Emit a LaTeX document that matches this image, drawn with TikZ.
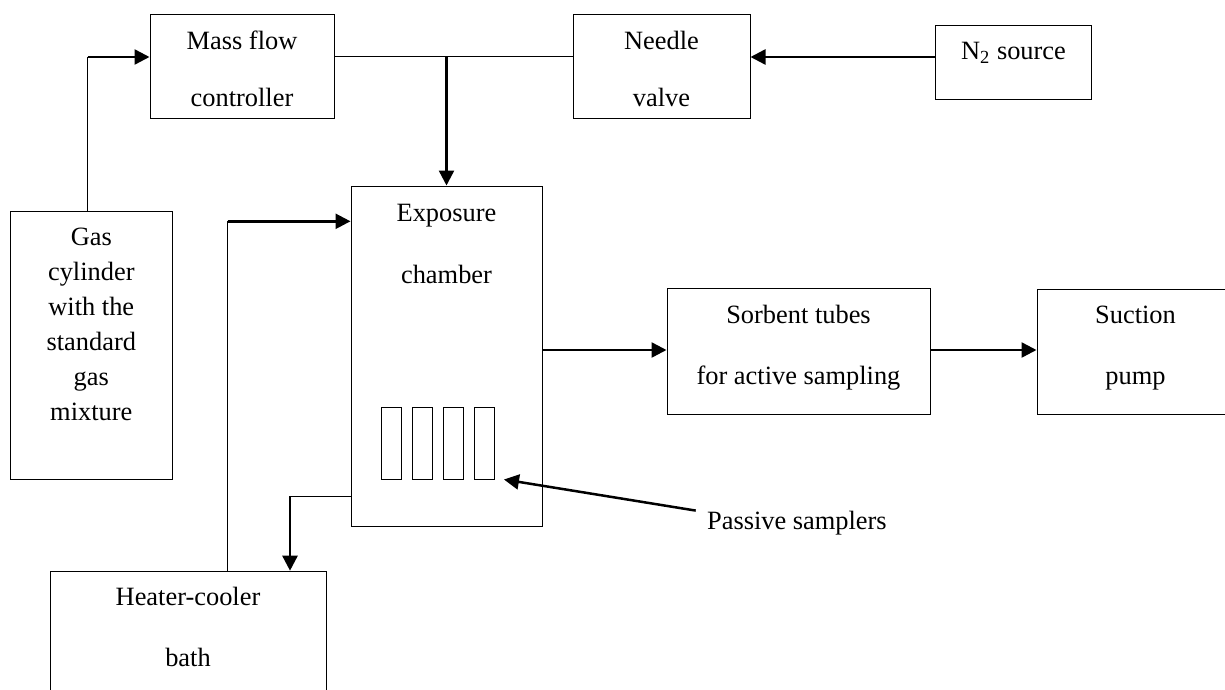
\documentclass[tikz,border=0pt]{standalone}
\usepackage{fontspec}
\setmainfont{Liberation Serif}
\usepackage{tikz}
\usetikzlibrary{arrows.meta,calc}
\tikzset{
  box/.style={draw, line width=0.5pt, inner sep=0pt},
  lbl/.style={inner sep=0pt, anchor=base, font=\fontsize{13.2pt}{15pt}\selectfont},
  pipe/.style={line width=0.5pt},
  flow/.style={line width=1.25pt, -{Triangle[length=7.5pt,width=7.5pt]}},
}
\begin{document}
\begin{tikzpicture}[x=0.5pt,y=-0.5pt]
  \useasboundingbox (0,0) rectangle (1225,690);
  \clip (0,0) rectangle (1225,690);
  % boxes (1 unit = 1 px of the sheet)
  \node[box, minimum width=92pt,   minimum height=52pt]    (mfc)     at (242,67)      {};
  \node[box, minimum width=88.5pt, minimum height=52pt]    (needle)  at (661.5,67)    {};
  \node[box, minimum width=77.9pt, minimum height=37pt]    (ntwo)    at (1013.5,62.7) {};
  \node[box, minimum width=80.7pt, minimum height=134.2pt] (gas)     at (91.3,345.2)  {};
  \node[box, minimum width=95.5pt, minimum height=170pt]   (chamber) at (446.5,356)   {};
  \node[box, minimum width=131.5pt,minimum height=63pt]    (sorbent) at (798.5,351.7) {};
  \node[box, minimum width=98.5pt, minimum height=62.7pt]  (pump)    at (1135.5,351.7){};
  \node[box, anchor=north, minimum width=138pt, minimum height=110pt] (bath) at (188,570.7) {};
  % labels, one node per line
  \foreach \t [count=\k from 0] in {Mass flow,controller} \node[lbl] (mfc-\k) at (242,49.3+57.4*\k) {\t};
  \foreach \t [count=\k from 0] in {Needle,valve} \node[lbl] (needle-\k) at (661.5,49.3+57.4*\k) {\t};
  \node[lbl] (ntwo-0) at (1013.5,60) {N\textsubscript{2} source};
  \foreach \t [count=\k from 0] in {Gas,cylinder,with the,standard,gas,mixture} \node[lbl] (gas-\k) at (91.3,245+35.15*\k) {\t};
  \foreach \t [count=\k from 0] in {Exposure,chamber} \node[lbl] (chamber-\k) at (446.5,221.7+61.6*\k) {\t};
  \foreach \t [count=\k from 0] in {Sorbent tubes,for active sampling} \node[lbl] (sorbent-\k) at (798.5,323.3+60.7*\k) {\t};
  \foreach \t [count=\k from 0] in {Suction,pump} \node[lbl] (pump-\k) at (1135.5,323.3+61.5*\k) {\t};
  \foreach \t [count=\k from 0] in {Heater-cooler,bath} \node[lbl] (bath-\k) at (188,605+61*\k) {\t};
  \node[lbl, anchor=base west] (passive) at (706.7,529.3) {Passive samplers};
  % passive samplers inside the chamber
  \foreach \i in {0,...,3} \draw[line width=0.5pt] (381.5+31*\i,407) rectangle ++(19.5,72.5);
  % piping
  \coordinate (gasup) at (87.7,57);
  \coordinate (ret) at (227.7,221.3);
  \coordinate (drain) at (290,496);
  \coordinate (ptip) at (504,479.5);
  \draw[pipe] (gasup |- gas.north) -- (gasup);
  \draw[flow] (gasup) -- (gasup -| mfc.west);
  \draw[pipe] (mfc.east |- gasup) -- (needle.west |- gasup);
  \draw[flow] (ntwo.west |- gasup) -- (needle.east |- gasup);
  \draw[flow] (chamber.north |- gasup) -- (chamber.north);
  \draw[pipe] (ret |- bath.north) -- (ret);
  \draw[flow] (ret) -- (ret -| chamber.west);
  \draw[pipe] (drain -| chamber.west) -- (drain);
  \draw[flow] (drain) -- (drain |- bath.north);
  \draw[flow] (chamber.east |- 0,350) -- (sorbent.west |- 0,350);
  \draw[flow] (sorbent.east |- 0,350) -- (pump.west |- 0,350);
  \draw[flow] ([xshift=-5.5pt]passive.north west) -- (ptip);
\end{tikzpicture}
\end{document}
